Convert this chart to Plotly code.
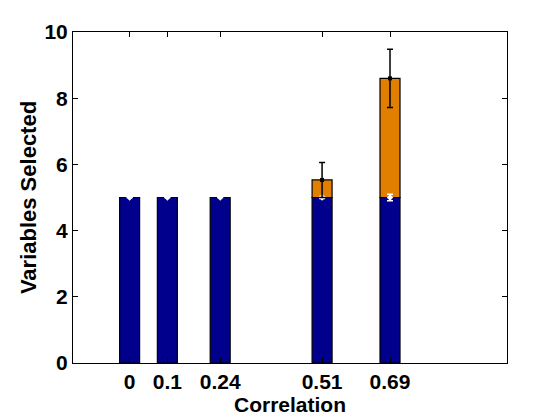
import plotly.graph_objects as go

correlation = [0, 0.1, 0.24, 0.51, 0.69]
true_selected = [5, 5, 5, 5, 5]
true_err = [0, 0, 0, 0.03, 0.1]
false_selected = [0, 0, 0, 0.53, 3.6]
false_err = [0, 0, 0, 0.53, 0.88]
x_ticks = [0, 0.1, 0.24, 0.51, 0.69]
x_ticktext = ["0", "0.1", "0.24", "0.51", "0.69"]
y_ticks = [0, 2, 4, 6, 8, 10]

BLUE = "#00008C"
ORANGE = "#E07F00"
BAR_W = 0.053

fx = [c for c, f in zip(correlation, false_selected) if f > 0]
fy = [f for f in false_selected if f > 0]
fbase = [t for t, f in zip(true_selected, false_selected) if f > 0]
fe = [e for e, f in zip(false_err, false_selected) if f > 0]
ftop = [b + f for b, f in zip(fbase, fy)]

fig = go.Figure()
fig.add_trace(go.Bar(x=correlation, y=true_selected, width=BAR_W,
                     marker=dict(color=BLUE, line=dict(color="black", width=1.2)),
                     showlegend=False))
fig.add_trace(go.Bar(x=fx, y=fy, base=fbase, width=BAR_W,
                     marker=dict(color=ORANGE, line=dict(color="black", width=1.2)),
                     showlegend=False))
fig.add_trace(go.Scatter(x=correlation, y=true_selected, mode="markers",
                         marker=dict(symbol="diamond", size=5, color="white"),
                         error_y=dict(type="data", array=true_err, color="white",
                                      thickness=1.5, width=3),
                         showlegend=False))
fig.add_trace(go.Scatter(x=fx, y=ftop, mode="markers",
                         marker=dict(symbol="square", size=4, color="black"),
                         error_y=dict(type="data", array=fe, color="black",
                                      thickness=1.5, width=3),
                         showlegend=False))

fig.update_layout(
    width=560, height=420,
    margin=dict(l=73, r=53, t=32, b=55),
    paper_bgcolor="white", plot_bgcolor="white",
    barmode="overlay",
    font=dict(family="Liberation Sans, Arial, sans-serif", size=21, color="black", weight="bold"),
)
fig.update_xaxes(range=[-0.15, 1.0], tickvals=x_ticks, ticktext=x_ticktext,
                 ticks="inside", ticklen=5, tickcolor="black", showline=True,
                 linecolor="black", linewidth=1, mirror="ticks", showgrid=False,
                 zeroline=False,
                 title=dict(text="Correlation", font=dict(size=21, weight="bold"), standoff=0))
fig.update_yaxes(range=[0, 10], tickvals=y_ticks,
                 ticks="inside", ticklen=5, tickcolor="black", showline=True,
                 linecolor="black", linewidth=1, mirror="ticks", showgrid=False,
                 zeroline=False,
                 title=dict(text="Variables Selected", font=dict(size=22, weight="bold"), standoff=1))

fig.write_html("out.html")
